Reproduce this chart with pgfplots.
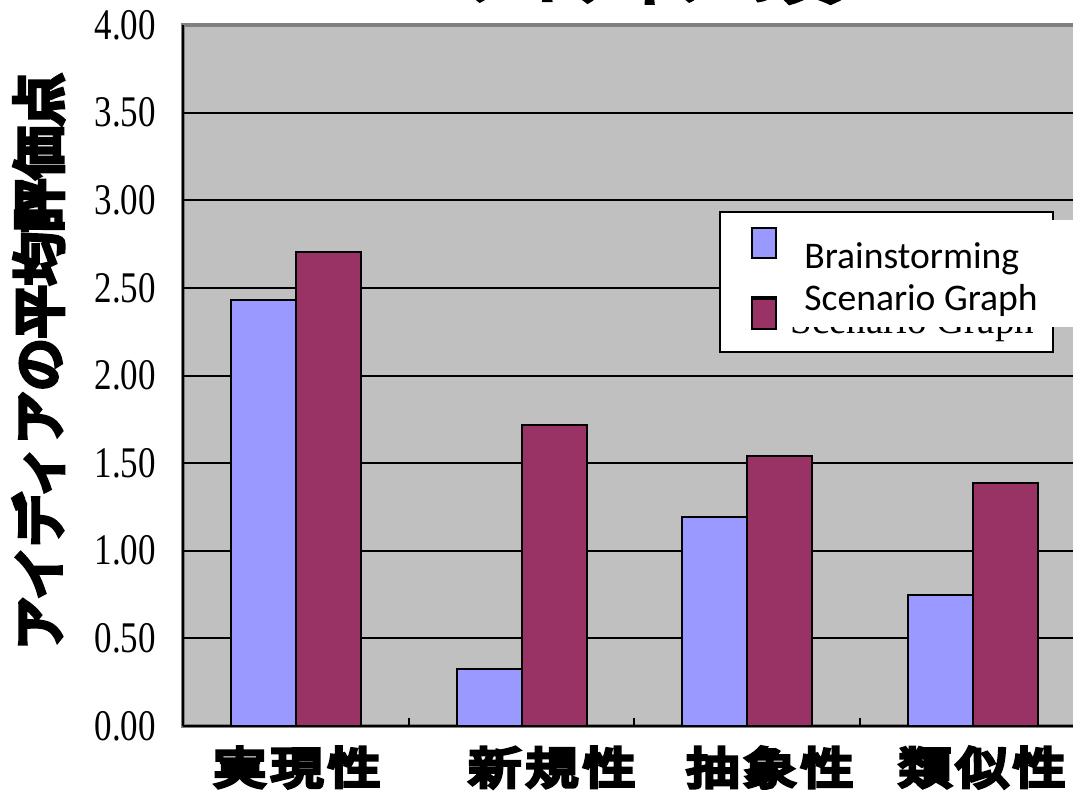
\documentclass[border=0pt]{standalone}
\usepackage{pgfplots}
\pgfplotsset{compat=1.18}
\usepackage{fontspec}
\newfontfamily\lserif{Liberation Serif}
\newfontfamily\carlito{Carlito}
\newfontfamily\cjkb[FakeBold=9]{Noto Sans CJK JP}
\newfontfamily\cjkc[FakeBold=9,FakeStretch=1.2,LetterSpace=10]{Noto Sans CJK JP}
\definecolor{bgray}{HTML}{C0C0C0}
\definecolor{dgray}{HTML}{808080}
\definecolor{bsblue}{HTML}{9999FF}
\definecolor{sgpurple}{HTML}{993366}
\begin{document}
\begin{tikzpicture}
\useasboundingbox (-91.5pt,-41.5pt) rectangle (445pt,363pt);
\clip (-91.5pt,-41.5pt) rectangle (445pt,363pt);
\begin{axis}[
  at={(0,0)}, anchor=south west,
  scale only axis, width=451.5pt, height=350.5pt,
  xmin=0.5, xmax=4.5, ymin=0, ymax=4,
  ybar=0pt, bar width=32.5pt,
  axis background/.style={fill=bgray, draw=dgray, line width=2pt},
  axis x line*=bottom, axis y line*=left,
  axis line style={black, line width=1.25pt, -},
  ytick={0,0.5,...,3.5},
  extra y ticks={4}, extra y tick style={grid=none},
  ymajorgrids, grid style={black, line width=1pt},
  ytick style={draw=none},
  yticklabel={\scalebox{1}[1.25]{\pgfmathprintnumber{\tick}}},
  yticklabel style={font=\lserif\fontsize{17.5pt}{20pt}\selectfont, anchor=east, xshift=-10pt,
     /pgf/number format/fixed, /pgf/number format/fixed zerofill,
     /pgf/number format/precision=2, /pgf/number format/assume math mode=true},
  tick align=inside,
  xtick={1.5,2.5,3.5}, xticklabels={},
  xtick style={draw=black, line width=1pt}, major tick length=4pt,
  extra x ticks={1.005,2.135,3.10,4.04},
  extra x tick labels={実現性,新規性,抽象性,類似性},
  extra x tick style={major tick length=0pt},
  xticklabel style={font=\cjkc\fontsize{22pt}{26pt}\selectfont, yshift=-7pt},
  title={アイディアの質},
  title style={font=\cjkb\fontsize{27pt}{30pt}\selectfont, at={(axis description cs:0.5194,1)}, anchor=south, inner sep=0pt, yshift=5pt},
  ylabel={アイディアの平均評価点},
  every axis y label/.style={at={(axis description cs:-0.16,0.52)}, anchor=center, rotate=90, font=\cjkb\fontsize{26.5pt}{30pt}\selectfont},
  legend style={at={(axis cs:3.016,2.762)}, anchor=north west, draw=none, fill=none,
     inner sep=0pt, font=\carlito\fontsize{18.8pt}{22pt}\selectfont, row sep=6.5pt,
     nodes={inner sep=0pt},
     /tikz/every odd column/.append style={column sep=13.5pt}},
  legend cell align=left,
]
\addplot[fill=bsblue, draw=black, line width=1pt,
  legend image code/.code={\path (0pt,0pt) rectangle (12pt,1pt);
    \draw[fill=bsblue, draw=black, line width=1pt, overlay] (0pt,-0.5pt) rectangle (12pt,14.5pt);}]
  coordinates {(1,2.43) (2,0.325) (3,1.19) (4,0.75)};
\addplot[fill=sgpurple, draw=black, line width=1pt,
  legend image code/.code={\path (0pt,0pt) rectangle (12pt,1pt);
    \draw[fill=sgpurple, draw=black, line width=1pt, overlay] (0pt,-15pt) rectangle (12pt,0pt);}]
  coordinates {(1,2.705) (2,1.718) (3,1.541) (4,1.387)};
\fill[white, draw=black, line width=1.25pt] (axis cs:2.8787,2.134) rectangle (axis cs:4.3538,2.933);
\begin{scope}
\clip (axis cs:3.0,2.14) rectangle (axis cs:4.6,2.277);
\node[font=\lserif\fontsize{19.5pt}{22pt}\selectfont, anchor=base west, inner sep=0pt] at (axis cs:3.1888,2.237) {Scenario Graph};
\end{scope}
\fill[white] (axis cs:3.1445,2.277) rectangle (axis cs:4.6,2.887);
\addlegendentry{Brainstorming}
\addlegendentry{Scenario Graph}
\end{axis}
\end{tikzpicture}
\end{document}
